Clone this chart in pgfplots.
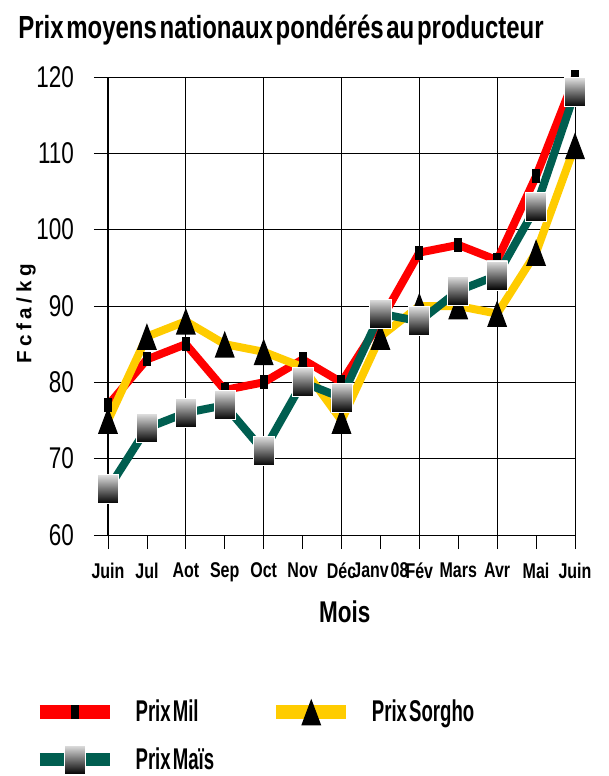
\documentclass[border=0pt]{standalone}
\usepackage{pgfplots}
\pgfplotsset{compat=1.18}
\usepackage{fontspec}
\setmainfont{Liberation Sans}
\newfontfamily\narrowfont{Liberation Sans}[FakeStretch=0.75, WordSpace=0.4]
\newfontfamily\narrowerfont{Liberation Sans}[FakeStretch=0.62, WordSpace=0.4]
\newfontfamily\wideyfont{Liberation Sans}[LetterSpace=22]

\definecolor{milred}{HTML}{FF0000}
\definecolor{sorghoyel}{HTML}{FFCC00}
\definecolor{maisteal}{HTML}{005E50}

% marks
\pgfdeclareplotmark{milsq}{%
  \pgfpathrectangle{\pgfpoint{-3pt}{-5.25pt}}{\pgfpoint{6pt}{10.5pt}}\pgfusepathqfill}
\pgfdeclareplotmark{talltri}{%
  \pgfpathmoveto{\pgfpoint{0pt}{10pt}}%
  \pgfpathlineto{\pgfpoint{7.5pt}{-10pt}}%
  \pgfpathlineto{\pgfpoint{-7.5pt}{-10pt}}%
  \pgfpathclose\pgfusepathqfill}
\pgfdeclareplotmark{gradsq}{%
  \shade[top color=white!88!black, bottom color=black, draw=white, line width=0.6pt]
    (-7.9pt,-10.9pt) rectangle (7.9pt,10.9pt);}

\pgfplotstableread{
x mil sorgho mais
0  77  75  66
1  83  86  74
2  85  88  76
3  79  85  77
4  80  84  71
5  83  82  80
6  80  75  78
7  88  86  89
8  97  90  88
9  98  90  92
10 96  89  94
11 107 97  103
12 120 111 118
}\prix

\begin{document}
\begin{tikzpicture}
\path[use as bounding box] (-81pt,-180.75pt) rectangle (375.75pt,401.25pt);
\node[font=\narrowfont\bfseries\fontsize{24}{28}\selectfont] at (129.75pt,378.75pt)
  {Prix moyens nationaux pondérés au producteur};
\begin{axis}[
    at={(0pt,0pt)}, anchor=south west,
    scale only axis, width=350.25pt, height=343.5pt,
    xmin=0, xmax=12, ymin=60, ymax=120,
    clip=false,
    axis lines=left,
    axis line style={-, black, line width=0.75pt},
    xtick={0,...,12},
    xticklabels={Juin,Jul,Aot,Sep,Oct,Nov,Déc,Janv 08,Fév,Mars,Avr,Mai,Juin},
    ytick={60,70,...,120},
    ymajorgrids,
    extra x ticks={0,2,...,12},
    extra x tick labels={},
    extra x tick style={grid=major, major tick length=0pt},
    grid style={black, line width=0.6pt},
    tick style={black, line width=0.6pt},
    tick align=outside,
    major tick length=10.5pt,
    /pgf/number format/assume math mode=true,
    xticklabel style={font=\narrowfont\bfseries\fontsize{16}{18}\selectfont, anchor=north, yshift=-7pt},
    yticklabel style={font=\narrowfont\fontsize{22.5}{26}\selectfont, anchor=east, xshift=-11.5pt},
    xlabel={Mois},
    xlabel style={font=\narrowfont\bfseries\fontsize{22.5}{26}\selectfont, at={(axis description cs:0.507,-0.168)}, anchor=center},
    ylabel={Fcfa/kg},
    ylabel style={font=\wideyfont\bfseries\fontsize{15.5}{18}\selectfont, at={(axis description cs:-0.1756,0.4825)}, anchor=center},
    legend columns=2,
    legend style={at={(axis description cs:-0.1606,-0.357)}, anchor=north west,
      draw=none, fill=none, inner sep=0pt, row sep=14.5pt,
      font=\narrowerfont\bfseries\fontsize{22.5}{26}\selectfont,
      /tikz/every odd column/.append style={column sep=14.25pt},
      nodes={inner sep=0pt}},
    legend cell align=left,
    legend image code/.code={%
      \draw[mark repeat=2, mark phase=2, #1, line width=10pt]
        plot coordinates {(0pt,0pt) (26.25pt,0pt) (52.5pt,0pt)};},
]
\addplot[milred, line width=6pt, mark=milsq, mark options={fill=black}] table[x=x, y=mil] {\prix};
\addlegendentry{\makebox[100.5pt][l]{Prix Mil}}
\addplot[sorghoyel, line width=6pt, mark=talltri, mark options={fill=black}] table[x=x, y=sorgho] {\prix};
\addlegendentry{Prix Sorgho}
\addplot[maisteal, line width=6pt, mark=gradsq] table[x=x, y=mais] {\prix};
\addlegendentry{\makebox[100.5pt][l]{Prix Maïs}}
\end{axis}
\end{tikzpicture}
\end{document}
